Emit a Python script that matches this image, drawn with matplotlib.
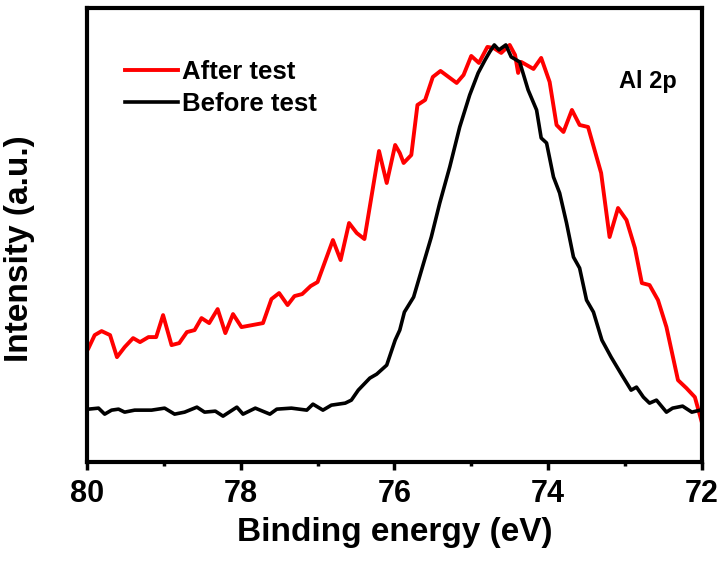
import matplotlib
matplotlib.use("Agg")
import matplotlib.pyplot as plt
from matplotlib.ticker import MultipleLocator

plt.rcParams["font.family"] = ["Liberation Sans", "DejaVu Sans"]

# Al 2p spectra, intensities in arbitrary units
after_energy = [
    79.98, 79.90, 79.81, 79.70, 79.61, 79.51, 79.40, 79.31, 79.20, 79.10,
    79.01, 78.90, 78.80, 78.70, 78.60, 78.51, 78.41, 78.30, 78.20, 78.10,
    77.99, 77.71, 77.60, 77.50, 77.39, 77.30, 77.20, 77.09, 77.00, 76.80,
    76.70, 76.59, 76.49, 76.39, 76.20, 76.10, 75.99, 75.93, 75.88, 75.78,
    75.70, 75.60, 75.50, 75.40, 75.19, 75.10, 75.00, 74.90, 74.79, 74.71,
    74.61, 74.50, 74.43, 74.39, 74.35, 74.19, 74.09, 73.98, 73.89, 73.80,
    73.69, 73.59, 73.48, 73.31, 73.20, 73.09, 72.98, 72.87, 72.78, 72.68,
    72.57, 72.46, 72.31, 72.20, 72.09, 72.00,
]
after_intensity = [
    114, 127, 131, 127, 105, 115, 124, 120, 125, 125,
    147, 117, 119, 130, 132, 144, 139, 153, 129, 148,
    135, 139, 163, 169, 157, 166, 168, 176, 180, 222,
    202, 239, 229, 223, 311, 279, 317, 309, 299, 307,
    357, 362, 385, 391, 379, 387, 406, 399, 415, 414,
    409, 417, 407, 389, 400, 393, 404, 380, 337, 330,
    352, 337, 335, 289, 225, 254, 242, 214, 179, 177,
    162, 135, 82, 74, 65, 40,
]

before_energy = [
    79.98, 79.85, 79.77, 79.68, 79.59, 79.51, 79.38, 79.16, 78.99, 78.86,
    78.73, 78.57, 78.47, 78.33, 78.23, 78.05, 77.97, 77.81, 77.62, 77.53,
    77.34, 77.14, 77.06, 76.93, 76.82, 76.64, 76.56, 76.47, 76.32, 76.23,
    76.10, 75.99, 75.93, 75.87, 75.75, 75.62, 75.52, 75.41, 75.28, 75.15,
    75.02, 74.91, 74.82, 74.76, 74.70, 74.64, 74.55, 74.48, 74.37, 74.26,
    74.15, 74.09, 74.02, 73.93, 73.85, 73.76, 73.67, 73.59, 73.50, 73.41,
    73.30, 73.18, 73.04, 72.92, 72.85, 72.76, 72.68, 72.59, 72.46, 72.38,
    72.25, 72.13, 72.02,
]
before_intensity = [
    53, 54, 48, 52, 53, 50, 52, 52, 54, 48,
    50, 55, 50, 51, 46, 55, 48, 54, 48, 53,
    54, 52, 58, 52, 57, 59, 62, 72, 84, 88,
    97, 122, 132, 150, 165, 199, 225, 259, 295, 335,
    367, 389, 402, 410, 417, 412, 417, 405, 400, 372,
    352, 324, 319, 285, 269, 239, 205, 194, 162, 150,
    122, 105, 87, 72, 75, 65, 59, 62, 50, 54,
    56, 50, 52,
]

x_ticks = [80, 78, 76, 74, 72]

fig = plt.figure(figsize=(7.25, 5.65), dpi=100)
ax = fig.add_axes([0.120, 0.182, 0.848, 0.804])

ax.plot(after_energy, after_intensity, color="#ff0000", lw=2.8, label="After test")
ax.plot(before_energy, before_intensity, color="black", lw=2.6, label="Before test")

ax.set_xlim(80, 72)
ax.set_ylim(0, 454)
ax.set_xticks(x_ticks)
ax.xaxis.set_minor_locator(MultipleLocator(1))
ax.set_yticks([])

for spine in ax.spines.values():
    spine.set_linewidth(3.0)

ax.tick_params(axis="x", which="major", direction="out", length=6, width=2.5,
               labelsize=22, pad=6)
ax.tick_params(axis="x", which="minor", direction="out", length=3, width=2.5)
for lbl in ax.get_xticklabels():
    lbl.set_fontweight("bold")

ax.set_xlabel("Binding energy (eV)", fontsize=24, fontweight="bold", labelpad=6)
ax.set_ylabel("Intensity (a.u.)", fontsize=24, fontweight="bold")
ax.yaxis.set_label_coords(-0.085, 0.47)

ax.text(0.959, 0.837, "Al 2p", transform=ax.transAxes, fontsize=17,
        fontweight="bold", ha="right", va="center")

ax.legend(loc="upper left", bbox_to_anchor=(0.062, 0.885), frameon=False,
          prop={"weight": "bold", "size": 18.5}, handlelength=2.06,
          handletextpad=0.15, labelspacing=0.3, borderpad=0, borderaxespad=0)

fig.savefig("out.png", dpi=100)
plt.close(fig)
